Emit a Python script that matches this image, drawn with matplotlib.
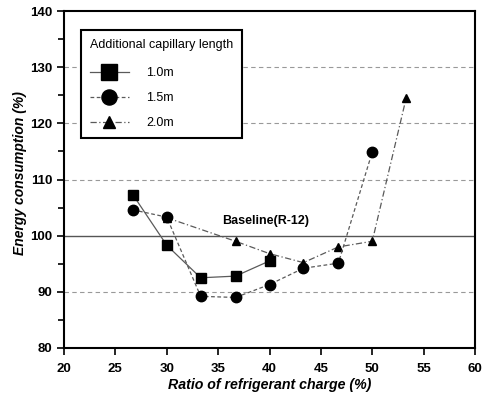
import matplotlib
matplotlib.use("Agg")
import matplotlib.pyplot as plt
from matplotlib.ticker import MultipleLocator

plt.rcParams['font.family'] = ['Liberation Sans', 'DejaVu Sans']

x_10 = [26.7, 30.0, 33.3, 36.7, 40.0]
y_10 = [107.3, 98.3, 92.5, 92.8, 95.5]

x_15 = [26.7, 30.0, 33.3, 36.7, 40.0, 43.3, 46.7, 50.0]
y_15 = [104.6, 103.3, 89.2, 89.0, 91.3, 94.2, 95.1, 114.9]

x_20 = [30.0, 36.7, 40.0, 43.3, 46.7, 50.0, 53.3]
y_20 = [103.2, 99.0, 96.8, 95.2, 98.0, 99.0, 124.5]

grid_levels = [90, 110, 120, 130]
baseline = 100

fig = plt.figure(figsize=(4.82, 3.95), dpi=100)
ax = fig.add_axes([64/482, 1-348/395, (475-64)/482, (348-11)/395])

for g in grid_levels:
    ax.axhline(g, color='#999999', lw=0.8, ls=(0, (4, 3)), zorder=0)
ax.axhline(baseline, color='#555555', lw=1.0, zorder=1)
ax.text(39.6, 102.6, 'Baseline(R-12)', ha='center', va='center',
        fontsize=9, fontweight='bold')

lc = '#5a5a5a'
ax.plot(x_10, y_10, color=lc, lw=0.9, ls='-', marker='s', ms=7.5,
        mfc='black', mec='black', label='1.0m', zorder=3)
ax.plot(x_15, y_15, color=lc, lw=0.9, ls=(0, (3, 2)), marker='o', ms=7.5,
        mfc='black', mec='black', label='1.5m', zorder=3)
ax.plot(x_20, y_20, color=lc, lw=0.9, ls=(0, (5, 2, 1, 2)), marker='^', ms=6,
        mfc='black', mec='black', label='2.0m', zorder=2)

ax.set_xlim(20, 60)
ax.set_ylim(80, 140)
ax.xaxis.set_major_locator(MultipleLocator(5))
ax.yaxis.set_major_locator(MultipleLocator(10))
ax.yaxis.set_minor_locator(MultipleLocator(5))
ax.tick_params(axis='both', which='major', direction='out', length=5, width=1.2,
               labelsize=9.5)
ax.tick_params(axis='x', which='major', pad=6)
ax.tick_params(axis='y', which='minor', direction='out', length=4, width=1.2)
for lab in ax.get_xticklabels() + ax.get_yticklabels():
    lab.set_fontweight('bold')
for s in ax.spines.values():
    s.set_linewidth(1.5)

ax.set_xlabel('Ratio of refrigerant charge (%)', fontsize=10.2,
              fontweight='bold', fontstyle='italic', labelpad=2)
ax.set_ylabel('Energy consumption (%)', fontsize=10,
              fontweight='bold', fontstyle='italic')
ax.yaxis.set_label_coords(-0.09, 0.52)

leg = ax.legend(loc='upper left', bbox_to_anchor=(0.041, 0.944),
                title='Additional capillary length', title_fontsize=9,
                fontsize=9, frameon=True, fancybox=False, handlelength=3.1,
                borderpad=0.72, labelspacing=1.05, handletextpad=1.4,
                markerscale=1.45, borderaxespad=0)
leg.get_frame().set_edgecolor('black')
leg.get_frame().set_linewidth(1.5)
leg.get_frame().set_alpha(1)
leg._legend_box.align = 'left'
leg._legend_box.sep = 11.6

fig.savefig('out.png', dpi=100)
